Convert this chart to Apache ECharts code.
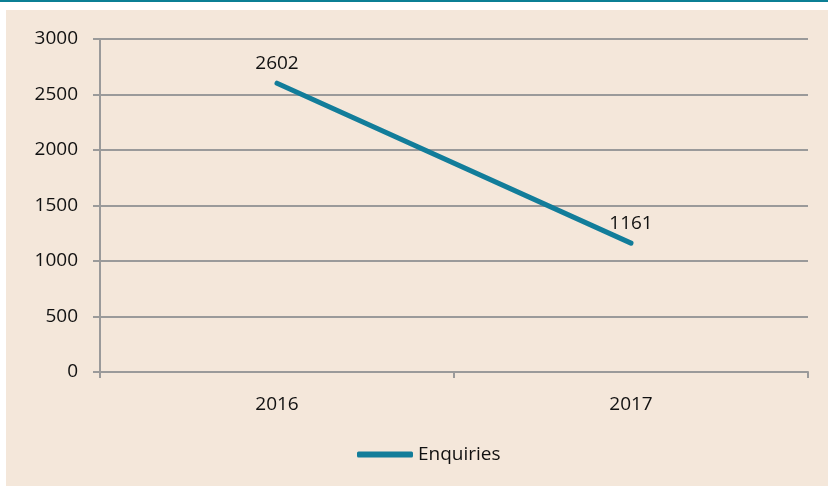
<!DOCTYPE html>
<html>
<head>
<meta charset="utf-8">
<script src="https://cdn.jsdelivr.net/npm/echarts@6/dist/echarts.min.js"></script>
<style>
  html, body { margin: 0; padding: 0; background: #fff; }
  #chart { width: 828px; height: 486px; }
</style>
</head>
<body>
<div id="chart"></div>
<script>
var years = ["2016", "2017"];
var enquiries = [2602, 1161];

var chart = echarts.init(document.getElementById("chart"));
var txt = "#111", grey = "#9a9a9a", teal = "#127d9a";
var font = "'Open Sans', 'Noto Sans', sans-serif";

chart.setOption({
    animation: false,
    textStyle: {fontFamily: font},
    graphic: [
        {type: "rect", shape: {x: 0, y: 0, width: 828, height: 2}, style: {fill: "#0b7f95"}, z: -10},
        {type: "rect", shape: {x: 6, y: 10, width: 822, height: 476}, style: {fill: "#f4e7da"}, z: -10}
    ],
    grid: {left: 100, right: 20, top: 39, bottom: 114},
    legend: {
        top: 445, left: 357, padding: 0,
        itemWidth: 56, itemHeight: 6, itemGap: 10,
        icon: "roundRect",
        textStyle: {fontSize: 19, color: txt, fontFamily: font, padding: [0, 0, 0, 0]},
        data: [{name: "Enquiries", itemStyle: {color: teal}}]
    },
    xAxis: {
        type: "category",
        data: years,
        boundaryGap: true,
        axisLine: {lineStyle: {color: grey, width: 2}},
        axisTick: {show: true, length: 6, lineStyle: {color: grey, width: 2}},
        axisLabel: {fontSize: 19, color: txt, margin: 23}
    },
    yAxis: {
        type: "value",
        min: 0, max: 3000, interval: 500,
        axisLine: {show: true, lineStyle: {color: grey, width: 2}},
        axisTick: {show: true, length: 7, lineStyle: {color: grey, width: 2}},
        axisLabel: {fontSize: 19, color: txt, margin: 22, formatter: function (v) { return String(v); }},
        splitLine: {lineStyle: {color: grey, width: 2}}
    },
    series: [{
        name: "Enquiries",
        type: "line",
        data: enquiries,
        symbol: "circle",
        symbolSize: 1,
        showSymbol: true,
        lineStyle: {color: teal, width: 5, cap: "round"},
        itemStyle: {color: teal},
        label: {show: true, position: "top", distance: 10, fontSize: 19, color: txt}
    }]
});
</script>
</body>
</html>
